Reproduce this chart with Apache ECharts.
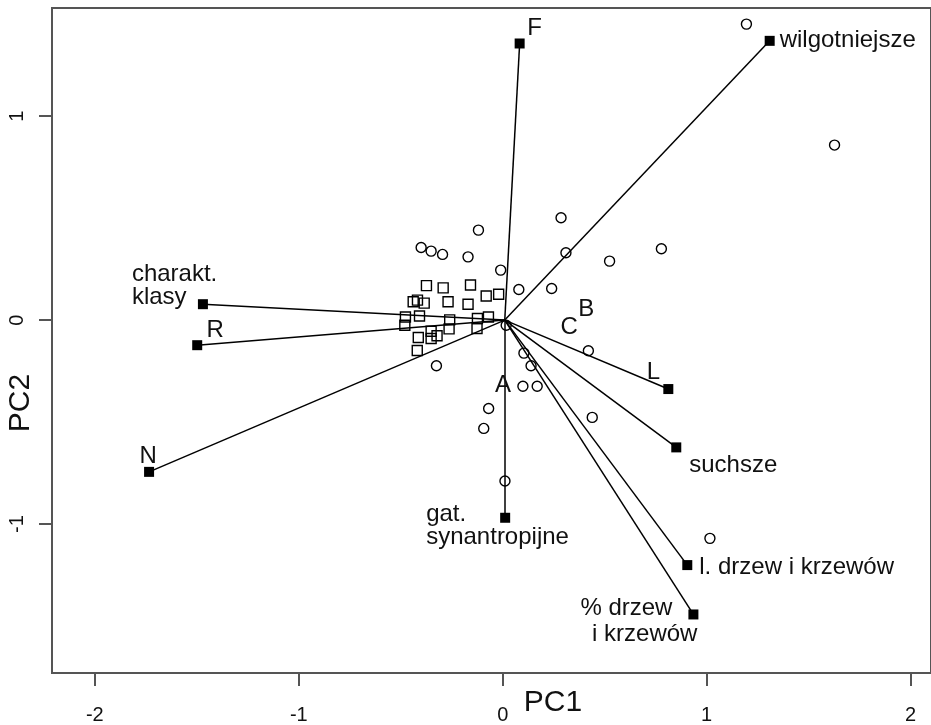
<!DOCTYPE html>
<html><head><meta charset="utf-8">
<script src="https://cdn.jsdelivr.net/npm/echarts@6/dist/echarts.min.js"></script>
<style>html,body{margin:0;padding:0;background:#fff}#c{width:931px;height:725px}</style>
</head><body><div id="c"></div>
<script>
// ---- data ----
const xTicks = [-2, -1, 0, 1, 2];
const yTicks = [-1, 0, 1];
const siteCircles = [
  [1.195, 1.451], [1.627, 0.858], [0.778, 0.350], [-0.119, 0.441], [0.286, 0.502],
  [-0.400, 0.356], [-0.351, 0.338], [-0.295, 0.322], [-0.170, 0.310], [-0.010, 0.245],
  [0.079, 0.150], [0.240, 0.155], [0.310, 0.330], [0.524, 0.289], [0.017, -0.025],
  [0.104, -0.162], [0.139, -0.224], [0.420, -0.150], [-0.325, -0.224], [0.099, -0.324],
  [0.169, -0.324], [0.439, -0.477], [-0.069, -0.433], [-0.093, -0.531], [0.011, -0.789],
  [1.016, -1.070]
];
const siteSquares = [
  [-0.374, 0.169], [-0.292, 0.158], [-0.158, 0.172], [-0.081, 0.118], [-0.020, 0.127],
  [-0.439, 0.090], [-0.418, 0.098], [-0.385, 0.083], [-0.268, 0.090], [-0.170, 0.078],
  [-0.477, 0.015], [-0.408, 0.020], [-0.480, -0.025], [-0.260, 0.001], [-0.263, -0.043],
  [-0.124, 0.008], [-0.070, 0.015], [-0.126, -0.041], [-0.414, -0.085], [-0.351, -0.055],
  [-0.351, -0.090], [-0.322, -0.077], [-0.419, -0.149]
];
const varNames = ['F', 'wilgotniejsze', 'charakt.\nklasy', 'R', 'N', 'L', 'suchsze',
  'l. drzew i krzewów', '% drzew\ni krzewów', 'gat.\nsynantropijne'];
const varX = [0.083, 1.309, -1.470, -1.498, -1.734, 0.812, 0.851, 0.905, 0.935, 0.012];
const varY = [1.356, 1.369, 0.078, -0.123, -0.744, -0.338, -0.624, -1.201, -1.443, -0.969];
const letterNames = ['A', 'B', 'C'];
const letterX = [0.001, 0.409, 0.326];
const letterY = [-0.319, 0.054, -0.037];
const origin = [0.01, 0];

// ---- styles ----
const FONT = '"Liberation Sans", Arial, Helvetica, sans-serif';
const INK = '#111';
const varLabelStyle = {
  'F': { align: 'center', offset: [15, -15] },
  'wilgotniejsze': { align: 'left', offset: [10, 0] },
  'charakt.\nklasy': { align: 'left', offset: [-71, -18] },
  'R': { align: 'center', offset: [18, -15] },
  'N': { align: 'center', offset: [-1, -15] },
  'L': { align: 'center', offset: [-15, -17] },
  'suchsze': { align: 'left', offset: [13, 18] },
  'l. drzew i krzewów': { align: 'left', offset: [12, 2] },
  '% drzew\ni krzewów': { align: 'right', offset: [4, 7], rich: true },
  'gat.\nsynantropijne': { align: 'left', offset: [-79, 8] }
};

const chart = echarts.init(document.getElementById('c'), null, { renderer: 'canvas' });

const varData = varNames.map((n, i) => {
  const st = varLabelStyle[n];
  const label = {
    show: true, position: 'inside', align: st.align, verticalAlign: 'middle',
    offset: st.offset, fontSize: 24, lineHeight: 23, color: INK, fontFamily: FONT, opacity: 1,
    formatter: () => n
  };
  if (st.rich) {
    const parts = n.split('\n');
    label.formatter = () => '{a|' + parts[0] + '}\n{b|' + parts[1] + '}';
    label.rich = {
      a: { fontSize: 24, lineHeight: 26, color: INK, fontFamily: FONT, padding: [0, 25, 0, 0] },
      b: { fontSize: 24, lineHeight: 26, color: INK, fontFamily: FONT }
    };
  }
  return { value: [varX[i], varY[i]], label: label };
});

const option = {
  animation: false,
  backgroundColor: '#fff',
  grid: { left: 52, top: 8, width: 882, height: 665, show: true, borderColor: '#555', borderWidth: 2, backgroundColor: 'transparent' },
  xAxis: {
    type: 'value', min: -2.21, max: 2.1,
    axisLine: { show: true, onZero: false, lineStyle: { color: '#555', width: 2 } },
    axisTick: { show: true, length: 13, customValues: xTicks, lineStyle: { color: '#555', width: 2 } },
    axisLabel: { customValues: xTicks, margin: 32, fontSize: 20, color: INK, fontFamily: FONT,
      formatter: v => String(v) },
    splitLine: { show: false }
  },
  yAxis: {
    type: 'value', min: -1.73, max: 1.53,
    axisLine: { show: true, onZero: false, lineStyle: { color: '#555', width: 2 } },
    axisTick: { show: true, length: 13, customValues: yTicks, lineStyle: { color: '#555', width: 2 } },
    axisLabel: { customValues: yTicks, rotate: 90, margin: 25, fontSize: 20, color: INK, fontFamily: FONT,
      formatter: v => String(v) },
    splitLine: { show: false }
  },
  graphic: [
    { type: 'text', x: 553, y: 703, style: { text: 'PC1', font: '30px ' + FONT, fill: INK, textAlign: 'center', textVerticalAlign: 'middle' } },
    { type: 'text', x: 21, y: 403, rotation: Math.PI / 2, style: { text: 'PC2', font: '30px ' + FONT, fill: INK, textAlign: 'center', textVerticalAlign: 'middle' } }
  ],
  series: [
    {
      type: 'lines', coordinateSystem: 'cartesian2d', silent: true, z: 2,
      lineStyle: { color: '#000', width: 1.5, opacity: 1 },
      data: varX.map((x, i) => ({ coords: [origin, [x, varY[i]]] }))
    },
    {
      type: 'scatter', symbol: 'circle', symbolSize: 10, z: 3,
      itemStyle: { color: 'rgba(0,0,0,0)', borderColor: '#000', borderWidth: 1.4, opacity: 1 },
      data: siteCircles
    },
    {
      type: 'scatter', symbol: 'rect', symbolSize: 10, z: 3,
      itemStyle: { color: 'rgba(0,0,0,0)', borderColor: '#000', borderWidth: 1.4, opacity: 1 },
      data: siteSquares
    },
    {
      type: 'scatter', symbol: 'rect', symbolSize: 10, z: 4,
      itemStyle: { color: '#000', opacity: 1 },
      data: varData
    },
    {
      type: 'scatter', symbolSize: 0, z: 4,
      itemStyle: { opacity: 1 },
      label: { show: true, position: 'inside', fontSize: 24, color: INK, fontFamily: FONT, opacity: 1,
        formatter: p => letterNames[p.dataIndex] },
      data: letterX.map((x, i) => [x, letterY[i]])
    }
  ]
};
chart.setOption(option);
</script>
</body></html>
